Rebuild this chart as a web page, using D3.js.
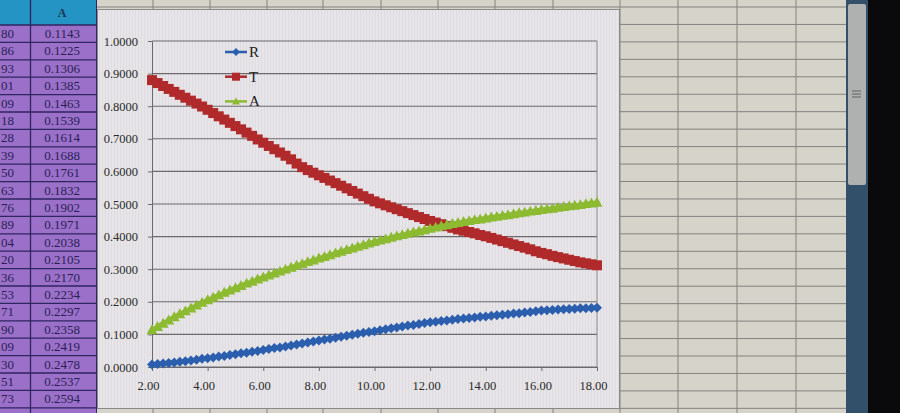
<!DOCTYPE html>
<html>
<head>
<meta charset="utf-8">
<script src="https://cdnjs.cloudflare.com/ajax/libs/d3/7.8.5/d3.min.js"></script>
<style>
  body { margin: 0; background: #0a0a0d; overflow: hidden; }
  svg { display: block; }
</style>
</head>
<body>
<div id="vis"></div>
<script>
// x values of the series (step 0.2 from 2 to 18)
var xVals = [2.0, 2.2, 2.4, 2.6, 2.8, 3.0, 3.2, 3.4, 3.6, 3.8,
  4.0, 4.2, 4.4, 4.6, 4.8, 5.0, 5.2, 5.4, 5.6, 5.8,
  6.0, 6.2, 6.4, 6.6, 6.8, 7.0, 7.2, 7.4, 7.6, 7.8,
  8.0, 8.2, 8.4, 8.6, 8.8, 9.0, 9.2, 9.4, 9.6, 9.8,
  10.0, 10.2, 10.4, 10.6, 10.8, 11.0, 11.2, 11.4, 11.6, 11.8,
  12.0, 12.2, 12.4, 12.6, 12.8, 13.0, 13.2, 13.4, 13.6, 13.8,
  14.0, 14.2, 14.4, 14.6, 14.8, 15.0, 15.2, 15.4, 15.6, 15.8,
  16.0, 16.2, 16.4, 16.6, 16.8, 17.0, 17.2, 17.4, 17.6, 17.8, 18.0];

var rVals = [0.008, 0.009, 0.011, 0.012, 0.014, 0.016, 0.018, 0.020, 0.022, 0.025,
  0.027, 0.029, 0.032, 0.034, 0.037, 0.039, 0.042, 0.044, 0.047, 0.049,
  0.052, 0.055, 0.058, 0.060, 0.063, 0.066, 0.069, 0.072, 0.075, 0.078,
  0.081, 0.084, 0.087, 0.090, 0.093, 0.096, 0.099, 0.102, 0.105, 0.107,
  0.110, 0.113, 0.116, 0.119, 0.121, 0.124, 0.127, 0.129, 0.132, 0.135,
  0.137, 0.139, 0.141, 0.143, 0.145, 0.147, 0.149, 0.150, 0.152, 0.154,
  0.155, 0.157, 0.159, 0.160, 0.162, 0.164, 0.165, 0.167, 0.169, 0.171,
  0.173, 0.174, 0.175, 0.176, 0.177, 0.178, 0.179, 0.180, 0.180, 0.181, 0.182];

var tVals = [0.880, 0.871, 0.862, 0.853, 0.844, 0.835, 0.826, 0.817, 0.808, 0.799,
  0.789, 0.779, 0.769, 0.759, 0.749, 0.739, 0.729, 0.719, 0.709, 0.698,
  0.688, 0.678, 0.668, 0.658, 0.648, 0.637, 0.624, 0.613, 0.604, 0.596,
  0.588, 0.580, 0.572, 0.564, 0.556, 0.548, 0.540, 0.532, 0.524, 0.516,
  0.508, 0.502, 0.496, 0.490, 0.484, 0.478, 0.472, 0.466, 0.460, 0.454,
  0.448, 0.443, 0.438, 0.432, 0.427, 0.422, 0.418, 0.414, 0.410, 0.405,
  0.401, 0.396, 0.391, 0.386, 0.381, 0.376, 0.371, 0.366, 0.361, 0.355,
  0.350, 0.346, 0.341, 0.337, 0.333, 0.329, 0.325, 0.321, 0.318, 0.315, 0.312];

var aVals = [0.114, 0.124, 0.134, 0.144, 0.154, 0.163, 0.172, 0.181, 0.190, 0.198,
  0.206, 0.214, 0.221, 0.229, 0.236, 0.243, 0.250, 0.257, 0.263, 0.270,
  0.276, 0.282, 0.288, 0.294, 0.300, 0.306, 0.312, 0.317, 0.323, 0.328,
  0.334, 0.339, 0.344, 0.350, 0.355, 0.360, 0.365, 0.370, 0.375, 0.380,
  0.385, 0.389, 0.393, 0.398, 0.402, 0.406, 0.410, 0.414, 0.417, 0.421,
  0.425, 0.429, 0.433, 0.436, 0.440, 0.443, 0.446, 0.449, 0.452, 0.454,
  0.457, 0.460, 0.462, 0.465, 0.467, 0.470, 0.473, 0.475, 0.478, 0.480,
  0.483, 0.485, 0.487, 0.490, 0.492, 0.494, 0.496, 0.498, 0.501, 0.503, 0.505];

var seriesNames = ["R", "T", "A"];
var yTicks = [0, 0.1, 0.2, 0.3, 0.4, 0.5, 0.6, 0.7, 0.8, 0.9, 1.0];
var xTicks = [2, 4, 6, 8, 10, 12, 14, 16, 18];

// spreadsheet cells visible left of the chart
var colAText = ["0.1143", "0.1225", "0.1306", "0.1385", "0.1463", "0.1539", "0.1614", "0.1688",
  "0.1761", "0.1832", "0.1902", "0.1971", "0.2038", "0.2105", "0.2170", "0.2234",
  "0.2297", "0.2358", "0.2419", "0.2478", "0.2537", "0.2594"];
var colPrevText = ["80", "86", "93", "01", "09", "18", "28", "39", "50", "63", "76",
  "89", "04", "20", "36", "53", "71", "90", "09", "30", "51", "73"];

var width = 900, height = 413;
var colors = {R: "#2b5fae", T: "#b02a2b", A: "#8cba31"};

var svg = d3.select("#vis").append("svg")
  .attr("width", width)
  .attr("height", height);

// sheet background
svg.append("rect").attr("width", 848).attr("height", height).attr("fill", "#d6d3ca");

// grid of the sheet on the right and top strip
var sheet = svg.append("g").attr("stroke", "#84827e").attr("stroke-width", 1);
for (var i = 0; i < 24; i++) {
  var gy = 7 + i * 17.45;
  sheet.append("line").attr("x1", 97).attr("x2", 848).attr("y1", gy).attr("y2", gy);
}
[153, 210, 267, 323, 381, 438, 495, 553, 620, 678, 737, 796].forEach(function(gx) {
  sheet.append("line").attr("x1", gx).attr("x2", gx).attr("y1", 0).attr("y2", height);
});

// purple column with numbers
var left = svg.append("g");
left.append("rect").attr("x", 0).attr("y", 0).attr("width", 97).attr("height", 25).attr("fill", "#2394c3");
left.append("rect").attr("x", 0).attr("y", 25).attr("width", 97).attr("height", height - 25).attr("fill", "#9b70c9");
left.append("text").attr("x", 62).attr("y", 17)
  .attr("text-anchor", "middle")
  .style("font", "bold 12px 'Liberation Serif'")
  .attr("fill", "#1d3550")
  .text("A");
for (var j = 0; j < 24; j++) {
  var ry = 25 + j * 17.4;
  left.append("line").attr("x1", 0).attr("x2", 97).attr("y1", ry).attr("y2", ry)
    .attr("stroke", "#2f2560").attr("stroke-width", 1.3);
}
left.append("line").attr("x1", 30.5).attr("x2", 30.5).attr("y1", 0).attr("y2", height)
  .attr("stroke", "#2f2560").attr("stroke-width", 1.3);
left.append("line").attr("x1", 96.5).attr("x2", 96.5).attr("y1", 0).attr("y2", height)
  .attr("stroke", "#2f2560").attr("stroke-width", 1);
left.selectAll("text.a")
  .data(colAText)
  .enter().append("text")
  .attr("class", "a")
  .attr("x", 80)
  .attr("y", function(d, k) { return 25 + k * 17.4 + 13; })
  .attr("text-anchor", "end")
  .style("font", "13px 'Liberation Serif'")
  .attr("fill", "#2a1f55")
  .text(function(d) { return d; });
left.selectAll("text.p")
  .data(colPrevText)
  .enter().append("text")
  .attr("class", "p")
  .attr("x", 14)
  .attr("y", function(d, k) { return 25 + k * 17.4 + 13; })
  .attr("text-anchor", "end")
  .style("font", "13px 'Liberation Serif'")
  .attr("fill", "#2a1f55")
  .text(function(d) { return d; });

// scrollbar and the dark monitor edge
svg.append("rect").attr("x", 846).attr("y", 0).attr("width", 22).attr("height", height).attr("fill", "#33506b");
svg.append("rect").attr("x", 848).attr("y", 4).attr("width", 18).attr("height", 181).attr("rx", 2).attr("fill", "#aeb1af");
[91, 94, 97].forEach(function(gy) {
  svg.append("line").attr("x1", 852).attr("x2", 861).attr("y1", gy).attr("y2", gy).attr("stroke", "#5e6260");
});
svg.append("rect").attr("x", 868).attr("y", 0).attr("width", 32).attr("height", height).attr("fill", "#0a0a0d");

// chart area (faint vertical moire of the photo)
var defs = svg.append("defs");
var pat = defs.append("pattern").attr("id", "stripes").attr("width", 3).attr("height", 10)
  .attr("patternUnits", "userSpaceOnUse");
pat.append("rect").attr("width", 3).attr("height", 10).attr("fill", "#e7e5e8");
pat.append("rect").attr("width", 1).attr("height", 10).attr("fill", "#dedce1");

svg.append("rect")
  .attr("x", 97.5).attr("y", 9.5).attr("width", 522).attr("height", 399)
  .attr("fill", "url(#stripes)")
  .attr("stroke", "#8a8a8a");

var x = d3.scaleLinear().domain([2, 18]).range([152, 597]);
var y = d3.scaleLinear().domain([0, 1]).range([367, 41]);

// gridlines
svg.append("g")
  .selectAll("line")
  .data(yTicks)
  .enter().append("line")
  .attr("x1", x(2)).attr("x2", x(18))
  .attr("y1", function(d) { return y(d); })
  .attr("y2", function(d) { return y(d); })
  .attr("stroke", "#6d6a6e")
  .attr("stroke-width", 1.1);
svg.append("line").attr("x1", x(18)).attr("x2", x(18)).attr("y1", y(1)).attr("y2", y(0))
  .attr("stroke", "#8a8a8a");

// axes
var yAxis = svg.append("g")
  .attr("transform", "translate(" + x(2) + ",0)")
  .call(d3.axisLeft(y).tickValues(yTicks).tickFormat(d3.format(".4f")).tickSize(4).tickPadding(10));
var xAxis = svg.append("g")
  .attr("transform", "translate(0," + y(0) + ")")
  .call(d3.axisBottom(x).tickValues(xTicks).tickFormat(d3.format(".2f")).tickSize(4).tickPadding(10));
[yAxis, xAxis].forEach(function(ax) {
  ax.select(".domain").attr("stroke", "#6d6a6e");
  ax.selectAll(".tick line").attr("stroke", "#6d6a6e");
  ax.selectAll("text")
    .style("font", "12.5px 'Liberation Serif'")
    .attr("fill", "#2a2a2a");
});
xAxis.selectAll("text").attr("dx", -4);

// series
var series = [
  {name: "R", values: rVals, shape: "diamond", size: 5, lw: 4},
  {name: "T", values: tVals, shape: "square", size: 5, lw: 6},
  {name: "A", values: aVals, shape: "triangle", size: 5.5, lw: 4}
];

function markerPath(shape, r) {
  if (shape == "diamond") return "M0," + (-r) + "L" + r + ",0L0," + r + "L" + (-r) + ",0Z";
  if (shape == "square") return "M" + (-r) + "," + (-r) + "H" + r + "V" + r + "H" + (-r) + "Z";
  return "M0," + (-r) + "L" + r + "," + (r * 0.8) + "L" + (-r) + "," + (r * 0.8) + "Z";
}

var line = d3.line()
  .x(function(d) { return x(d.x); })
  .y(function(d) { return y(d.y); });

series.forEach(function(s) {
  var pts = xVals.map(function(xv, k) { return {x: xv, y: s.values[k]}; });
  var g = svg.append("g");
  g.append("path")
    .datum(pts)
    .attr("d", line)
    .attr("fill", "none")
    .attr("stroke", colors[s.name])
    .attr("stroke-width", s.lw);
  g.selectAll("path.m")
    .data(pts)
    .enter().append("path")
    .attr("class", "m")
    .attr("d", markerPath(s.shape, s.size))
    .attr("transform", function(d) { return "translate(" + x(d.x) + "," + y(d.y) + ")"; })
    .attr("fill", colors[s.name]);
});

// legend
var legend = svg.append("g").selectAll("g")
  .data(series)
  .enter().append("g")
  .attr("transform", function(d, k) { return "translate(225," + (52 + k * 24.7) + ")"; });
legend.append("line")
  .attr("x1", 0).attr("x2", 22)
  .attr("stroke", function(d) { return colors[d.name]; })
  .attr("stroke-width", 2.5);
legend.append("path")
  .attr("d", function(d) { return markerPath(d.shape, 4); })
  .attr("transform", "translate(11,0)")
  .attr("fill", function(d) { return colors[d.name]; });
legend.append("text")
  .attr("x", 24).attr("y", 5)
  .style("font", "15px 'Liberation Serif'")
  .attr("fill", "#222")
  .text(function(d) { return d.name; });
</script>
</body>
</html>
